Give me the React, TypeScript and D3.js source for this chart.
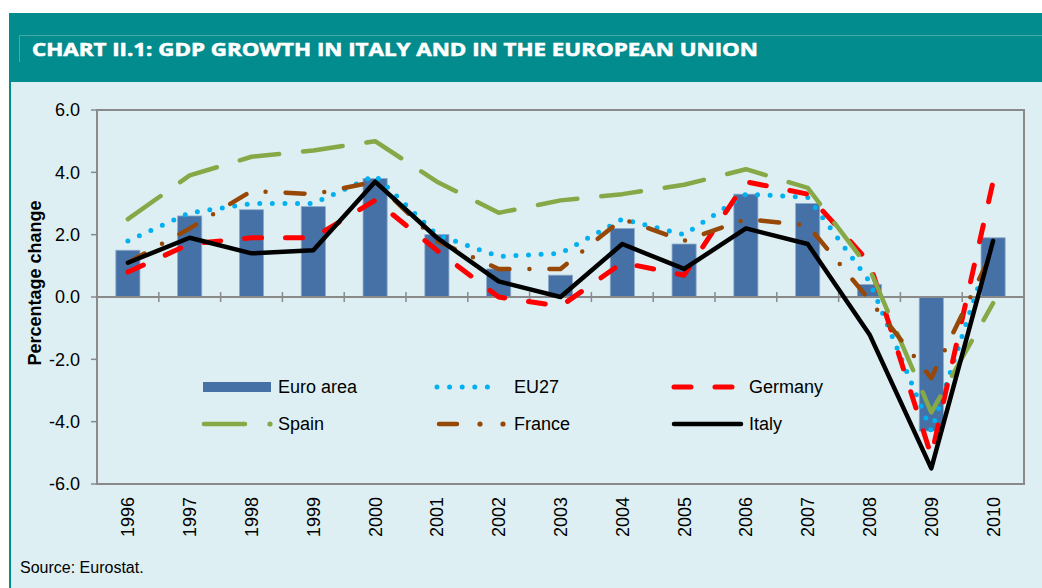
import * as d3 from 'd3';

// Years on the category axis
const YEARS = ['1996', '1997', '1998', '1999', '2000', '2001', '2002', '2003', '2004', '2005', '2006', '2007', '2008', '2009', '2010'];

// GDP growth, percentage change
const EURO_AREA = [1.5, 2.6, 2.8, 2.9, 3.8, 2.0, 0.9, 0.7, 2.2, 1.7, 3.3, 3.0, 0.4, -4.3, 1.9];
const EU27 = [1.8, 2.7, 3.0, 3.0, 3.9, 2.0, 1.3, 1.4, 2.5, 2.0, 3.3, 3.2, 0.5, -4.3, 1.8];
const GERMANY = [0.8, 1.7, 1.9, 1.9, 3.1, 1.5, 0.0, -0.3, 1.1, 0.7, 3.7, 3.3, 1.1, -5.1, 3.7];
const SPAIN = [2.5, 3.9, 4.5, 4.7, 5.0, 3.7, 2.7, 3.1, 3.3, 3.6, 4.1, 3.5, 0.9, -3.7, -0.2];
const FRANCE = [1.1, 2.2, 3.4, 3.3, 3.7, 1.8, 0.9, 0.9, 2.5, 1.8, 2.5, 2.3, -0.1, -2.6, 1.5];
const ITALY = [1.1, 1.9, 1.4, 1.5, 3.7, 1.9, 0.5, 0.0, 1.7, 0.9, 2.2, 1.7, -1.2, -5.5, 1.8];

const Y_TICKS = [-6, -4, -2, 0, 2, 4, 6];

const TEAL = '#028C8E';
const BG = '#DDEFF2';
const AXIS = '#8A8A8A';
const FONT = 'Arial, "Liberation Sans", sans-serif';

// line series, drawn in this order (last on top)
const SERIES = [
  { name: 'EU27', values: EU27, color: '#00B0F0', width: 5, dash: '0 12.6' },
  { name: 'Germany', values: GERMANY, color: '#FF0000', width: 5, dash: '17 24' },
  { name: 'Spain', values: SPAIN, color: '#86A846', width: 4.5, dash: '40 24' },
  { name: 'France', values: FRANCE, color: '#974806', width: 4.5, dash: '19 20 0 20' },
  { name: 'Italy', values: ITALY, color: '#000000', width: 4.5, dash: null },
];

export default function App() {
  const W = 1042;
  const H = 588;
  const plot = { left: 97, right: 1024, top: 110, bottom: 484 };

  const x = d3.scaleBand<string>().domain(YEARS).range([plot.left, plot.right]).paddingInner(0).paddingOuter(0);
  const y = d3.scaleLinear().domain([-6, 6]).range([plot.bottom, plot.top]);
  const barW = x.bandwidth() * 0.39;
  const cx = (yr: string) => (x(yr) ?? 0) + x.bandwidth() / 2;

  const line = d3
    .line<number>()
    .x((_, i) => cx(YEARS[i]))
    .y((d) => y(d));

  const y0 = y(0);

  // legend rows
  const row1 = 387;
  const row2 = 424;

  return (
    <svg
      width={W}
      height={H}
      style={{ position: 'absolute', left: 0, top: 0, display: 'block', background: '#fff' }}
      fontFamily={FONT}
    >
      {/* frame */}
      <rect x={9} y={13} width={W - 9} height={H - 13} fill={TEAL} />
      <rect x={11} y={82} width={W - 11} height={H - 82} fill={BG} />
      <path d={`M19.5,62 V35.5 H${W}`} fill="none" stroke="#45AAAB" strokeWidth={1} />
      <text
        x={32}
        y={55.5}
        fill="#fff"
        stroke="#fff"
        strokeWidth={0.6}
        fontFamily='"Open Sans", "DejaVu Sans", sans-serif'
        fontWeight={700}
        fontSize={18.5}
        textLength={726}
        lengthAdjust="spacingAndGlyphs"
      >
        CHART II.1: GDP GROWTH IN ITALY AND IN THE EUROPEAN UNION
      </text>

      {/* bars */}
      {EURO_AREA.map((v, i) => (
        <rect
          key={YEARS[i]}
          x={cx(YEARS[i]) - barW / 2}
          y={Math.min(y(v), y0)}
          width={barW}
          height={Math.abs(y(v) - y0)}
          fill="#4571A7"
          stroke="#8FA9CC"
          strokeWidth={0.8}
        />
      ))}

      {/* zero line with cross ticks */}
      <line x1={plot.left} x2={plot.right} y1={y0} y2={y0} stroke={AXIS} strokeWidth={2} />
      {YEARS.slice(1).map((yr) => (
        <line key={yr} x1={x(yr)} x2={x(yr)} y1={y0 - 5} y2={y0 + 5} stroke={AXIS} strokeWidth={1.5} />
      ))}

      {/* lines */}
      {SERIES.map((s) => (
        <path
          key={s.name}
          d={line(s.values) ?? ''}
          fill="none"
          stroke={s.color}
          strokeWidth={s.width}
          strokeDasharray={s.dash ?? undefined}
          strokeLinecap="round"
          strokeLinejoin="round"
        />
      ))}

      {/* plot border */}
      <rect
        x={plot.left}
        y={plot.top}
        width={plot.right - plot.left}
        height={plot.bottom - plot.top}
        fill="none"
        stroke={AXIS}
        strokeWidth={2}
      />

      {/* y axis */}
      {Y_TICKS.map((t) => (
        <g key={t}>
          <line x1={plot.left - 6} x2={plot.left} y1={y(t)} y2={y(t)} stroke={AXIS} strokeWidth={1.5} />
          <text x={80} y={y(t)} dy="0.36em" textAnchor="end" fontSize={18} fill="#000">
            {t.toFixed(1)}
          </text>
        </g>
      ))}
      <text
        transform={`translate(41,${(plot.top + plot.bottom) / 2 - 14}) rotate(-90)`}
        textAnchor="middle"
        fontSize={18}
        fontWeight={700}
        fill="#000"
      >
        Percentage change
      </text>

      {/* x labels */}
      {YEARS.map((yr) => (
        <text
          key={yr}
          transform={`translate(${cx(yr) + 6.5},497) rotate(-90)`}
          textAnchor="end"
          fontSize={18}
          fill="#000"
        >
          {yr}
        </text>
      ))}

      {/* legend */}
      <g fontSize={18} fill="#000">
        <rect x={203} y={row1 - 5} width={68} height={10} fill="#4571A7" />
        <text x={278} y={row1} dy="0.36em">Euro area</text>

        <line x1={437} x2={500} y1={row1} y2={row1} stroke="#00B0F0" strokeWidth={5} strokeDasharray="0 12.6" strokeLinecap="round" />
        <text x={514} y={row1} dy="0.36em">EU27</text>

        <line x1={674} x2={734} y1={row1} y2={row1} stroke="#FF0000" strokeWidth={5} strokeDasharray="17 24" strokeLinecap="round" />
        <text x={749} y={row1} dy="0.36em">Germany</text>

        <line x1={204} x2={245} y1={row2} y2={row2} stroke="#86A846" strokeWidth={4.5} strokeLinecap="round" />
        <circle cx={270} cy={row2} r={2.6} fill="#86A846" />
        <text x={278} y={row2} dy="0.36em">Spain</text>

        <line x1={439} x2={457} y1={row2} y2={row2} stroke="#974806" strokeWidth={4.5} strokeLinecap="round" />
        <circle cx={480} cy={row2} r={2.6} fill="#974806" />
        <circle cx={503} cy={row2} r={2.6} fill="#974806" />
        <text x={514} y={row2} dy="0.36em">France</text>

        <line x1={674} x2={741} y1={row2} y2={row2} stroke="#000" strokeWidth={4.5} strokeLinecap="round" />
        <text x={749} y={row2} dy="0.36em">Italy</text>
      </g>

      {/* source */}
      <text x={20} y={573} fontSize={16} fill="#000">
        Source: Eurostat.
      </text>
    </svg>
  );
}
